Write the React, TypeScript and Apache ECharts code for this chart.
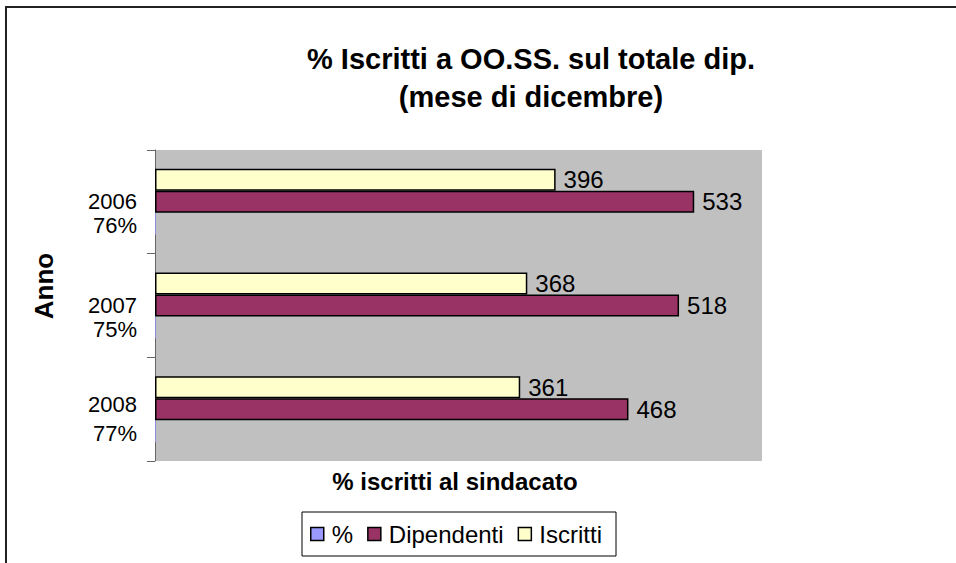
import React, { useEffect, useRef } from "react";
import * as echarts from "echarts";

const years = ["2006", "2007", "2008"];
const percents = ["76%", "75%", "77%"];
const percentValues = [0.76, 0.75, 0.77];
const dipendenti = [533, 518, 468];
const iscritti = [396, 368, 361];

const FONT = "'Liberation Sans', Arial, sans-serif";

export default function App() {
  const ref = useRef<HTMLDivElement>(null);
  useEffect(() => {
    if (!ref.current) return;
    const chart = echarts.init(ref.current, undefined, { renderer: "svg" });
    const cats = years.map((y, i) => `${y}|${percents[i]}`);
    const valueLabel = {
      show: true,
      position: "right",
      distance: 8,
      fontFamily: FONT,
      fontSize: 24,
      color: "#000",
    };
    chart.setOption({
      animation: false,
      backgroundColor: "#ffffff",
      textStyle: { fontFamily: FONT },
      title: {
        text: "% Iscritti a OO.SS. sul totale dip.\n(mese di dicembre)",
        left: 526,
        top: 35,
        textAlign: "center",
        textStyle: {
          fontFamily: FONT,
          fontSize: 29,
          fontWeight: "bold",
          color: "#000",
          lineHeight: 38,
        },
      },
      legend: {
        data: ["%", "Dipendenti", "Iscritti"],
        left: 302,
        top: 512,
        orient: "horizontal",
        icon: "rect",
        itemWidth: 13,
        itemHeight: 13,
        itemGap: 14,
        borderColor: "#000",
        borderWidth: 1,
        borderRadius: 0,
        padding: [10, 14, 10, 8],
        textStyle: { fontFamily: FONT, fontSize: 24, color: "#000", padding: [0, 0, 0, 3] },
        itemStyle: { borderColor: "#000", borderWidth: 1.5 },
      },
      grid: {
        left: 155,
        top: 150,
        width: 607,
        height: 311,
        show: true,
        backgroundColor: "#C0C0C0",
        borderWidth: 0,
        containLabel: false,
      },
      xAxis: {
        type: "value",
        min: 0,
        max: 600,
        show: false,
        splitLine: { show: false },
      },
      yAxis: {
        type: "category",
        data: cats,
        inverse: true,
        axisLine: { show: true, lineStyle: { color: "#666", width: 1 } },
        axisTick: { show: true, length: 8, lineStyle: { color: "#666" } },
        axisLabel: {
          margin: 18,
          align: "right",
          fontFamily: FONT,
          fontSize: 22,
          color: "#000",
          padding: [24, 0, 0, 0],
          formatter: (value: string, index: number) => {
            const [y, p] = value.split("|");
            return index === 2 ? `{a|${y}}\n{c|${p}}` : `{a|${y}}\n{b|${p}}`;
          },
          rich: {
            a: { fontFamily: FONT, fontSize: 22, lineHeight: 24, color: "#000", align: "right" },
            b: { fontFamily: FONT, fontSize: 22, lineHeight: 24, color: "#000", align: "right" },
            c: { fontFamily: FONT, fontSize: 22, lineHeight: 34, color: "#000", align: "right" },
          },
        },
      },
      graphic: [
        {
          type: "rect",
          shape: { x: 6, y: 7, width: 980, height: 620 },
          style: { fill: "none", stroke: "#222", lineWidth: 2 },
          silent: true,
        },
        {
          type: "text",
          x: 44,
          y: 286,
          rotation: Math.PI / 2,
          style: {
            text: "Anno",
            fontFamily: FONT,
            fontSize: 26,
            fontWeight: "bold",
            fill: "#000",
            align: "center",
            verticalAlign: "middle",
          },
        },
        {
          type: "text",
          x: 455,
          y: 481,
          style: {
            text: "% iscritti al sindacato",
            fontFamily: FONT,
            fontSize: 24,
            fontWeight: "bold",
            fill: "#000",
            align: "center",
            verticalAlign: "middle",
          },
        },
      ],
      series: [
        {
          name: "Iscritti",
          type: "bar",
          data: iscritti,
          barWidth: 22,
          barGap: "0%",
          itemStyle: { color: "#FFFFCC", borderColor: "#000", borderWidth: 1.5 },
          label: valueLabel,
        },
        {
          name: "Dipendenti",
          type: "bar",
          data: dipendenti,
          barWidth: 22,
          barGap: "0%",
          itemStyle: { color: "#993366", borderColor: "#000", borderWidth: 1.5 },
          label: valueLabel,
        },
        {
          name: "%",
          type: "bar",
          data: percentValues,
          barWidth: 22,
          barGap: "0%",
          itemStyle: { color: "#9999FF", borderWidth: 0 },
          label: { show: false },
        },
      ],
    });
    return () => chart.dispose();
  }, []);
  return (
    <div
      ref={ref}
      style={{ position: "fixed", left: 0, top: 0, width: 956, height: 563 }}
    />
  );
}
